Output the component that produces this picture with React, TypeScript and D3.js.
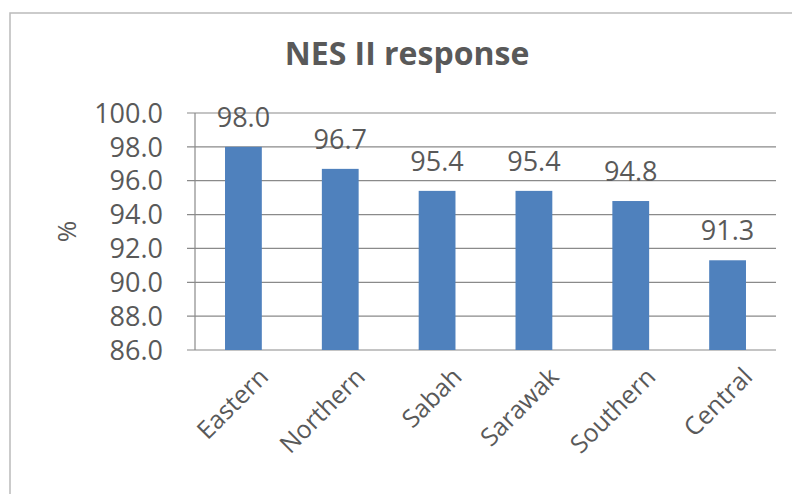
import React from "react";
import { scaleBand, scaleLinear, range } from "d3";

const categories = ["Eastern", "Northern", "Sabah", "Sarawak", "Southern", "Central"];
const responseRates = [98.0, 96.7, 95.4, 95.4, 94.8, 91.3];
const yTicks = [86, 88, 90, 92, 94, 96, 98, 100];
const chartTitle = "NES II response";
const yAxisLabel = "%";

const W = 792;
const H = 494;
const margin = { top: 113, right: 16, bottom: 144, left: 195 };
const font = "'Open Sans', Lato, sans-serif";
const textColor = "#595959";

export default function App() {
  const innerW = W - margin.left - margin.right;
  const innerH = H - margin.top - margin.bottom;

  const x = scaleBand<string>().domain(categories).range([0, innerW]).paddingInner(0.62).paddingOuter(0.31);
  const y = scaleLinear().domain([86, 100]).range([innerH, 0]);

  return (
    <svg width={W} height={H} style={{ position: "absolute", left: 0, top: 0, background: "#fff" }}>
      <rect x={10} y={13} width={W + 20} height={H + 20} fill="none" stroke="#bbb" strokeWidth={1.5} />
      <text x={407} y={65} textAnchor="middle" fontFamily={font} fontWeight="bold" fontSize={32} fill={textColor}>
        {chartTitle}
      </text>
      <text
        transform={`translate(76, ${margin.top + innerH / 2}) rotate(-90)`}
        textAnchor="middle"
        fontFamily={font}
        fontSize={26}
        fill={textColor}
      >
        {yAxisLabel}
      </text>
      <g transform={`translate(${margin.left},${margin.top})`}>
        {/* gridlines and ticks */}
        {yTicks.map((t) => (
          <g key={t}>
            <line x1={-8} x2={innerW} y1={y(t)} y2={y(t)} stroke="#8a8a8a" strokeWidth={1.2} />
            <text x={-32} y={y(t)} dy="0.36em" textAnchor="end" fontFamily={font} fontSize={27} fill={textColor}>
              {t.toFixed(1)}
            </text>
          </g>
        ))}
        <line x1={0} x2={0} y1={0} y2={innerH} stroke="#8a8a8a" strokeWidth={1.2} />
        {/* bars */}
        {range(categories.length).map((i) => (
          <rect
            key={categories[i]}
            x={x(categories[i])}
            y={y(responseRates[i])}
            width={x.bandwidth()}
            height={innerH - y(responseRates[i])}
            fill="#4f81bd"
          />
        ))}
        {/* value labels */}
        {range(categories.length).map((i) => (
          <text
            key={"v" + i}
            x={(x(categories[i]) ?? 0) + x.bandwidth() / 2}
            y={y(responseRates[i]) - 20}
            textAnchor="middle"
            fontFamily={font}
            fontSize={27}
            fill={textColor}
          >
            {responseRates[i].toFixed(1)}
          </text>
        ))}
        {/* category labels */}
        {categories.map((c) => (
          <text
            key={c}
            transform={`translate(${(x(c) ?? 0) + x.bandwidth() / 2 + 14}, ${innerH + 16}) rotate(-45)`}
            textAnchor="end"
            dy="0.7em"
            fontFamily={font}
            fontSize={25}
            fill={textColor}
          >
            {c}
          </text>
        ))}
      </g>
    </svg>
  );
}
